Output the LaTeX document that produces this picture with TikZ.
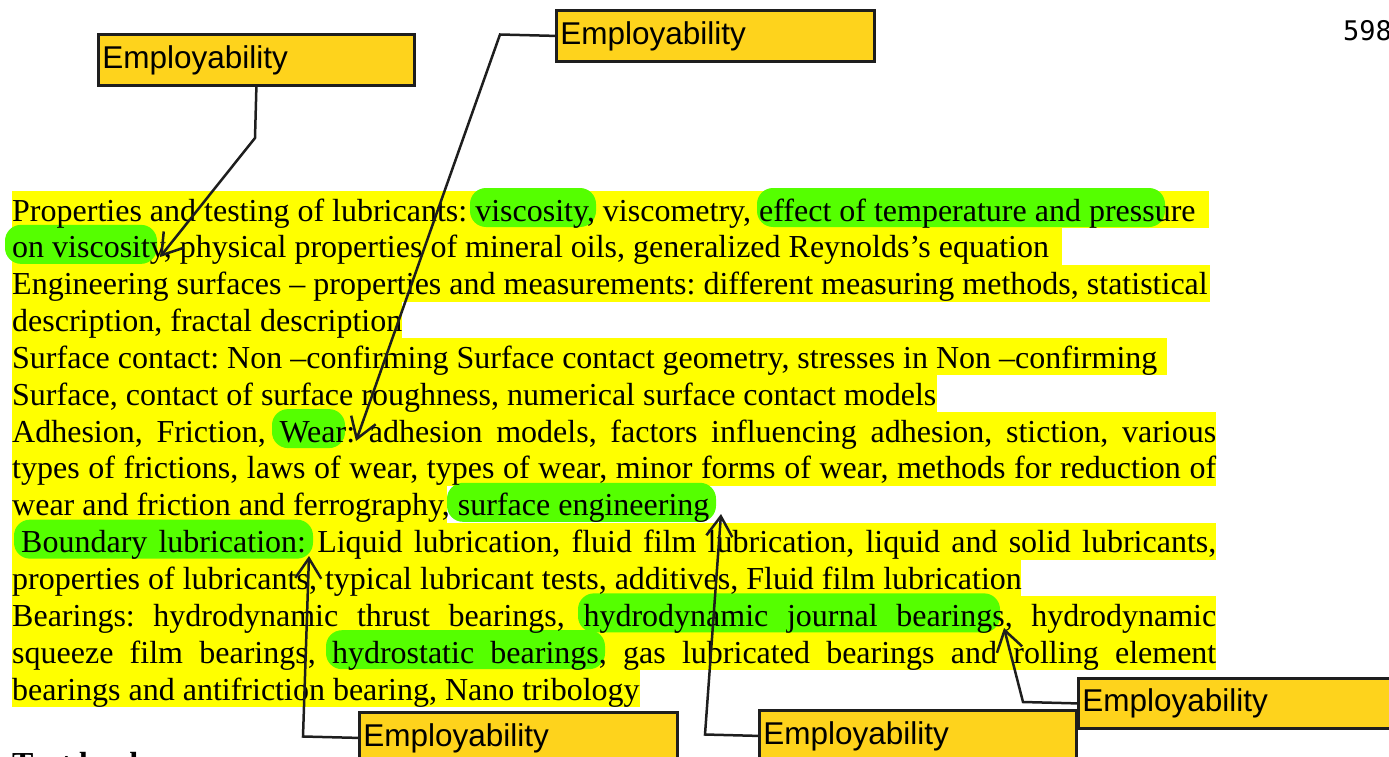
\documentclass[tikz,border=0pt]{standalone}
\usepackage{fontspec}
\setmainfont{Liberation Serif}
\newfontfamily\arialf{Liberation Sans}
\newfontfamily\monof{DejaVu Sans Mono}
\usetikzlibrary{arrows.meta}
\definecolor{hlyellow}{RGB}{255,255,0}
\definecolor{hlgreen}{RGB}{85,255,0}
\definecolor{boxfill}{RGB}{254,211,28}
\definecolor{inkline}{RGB}{30,30,30}
\tikzset{
  bodytext/.style={font=\fontsize{32}{37}\selectfont\frenchspacing, anchor=base west, inner sep=0pt},
  embox/.style={draw=inkline, line width=2.8pt, fill=boxfill, anchor=north west, inner xsep=4pt, inner ysep=0pt,
    minimum height=51pt, align=left, font=\arialf\fontsize{31.5}{34}\selectfont},
  conn/.style={draw=inkline, line width=2.5pt, line join=miter, -{Straight Barb[length=20pt,width=26pt,line width=2.5pt]}},
  ybar/.style={fill=hlyellow},
  gbar/.style={fill=hlgreen, rounded corners=16pt}
}
\begin{document}
\begin{tikzpicture}[x=1pt,y=-1pt]
\useasboundingbox (0,0) rectangle (1389,757);
\clip (0,0) rectangle (1389,757);
% yellow bands
\foreach \b/\r in {221/1209, 257.85/1062, 294.7/1210, 331.55/402, 368.4/1167, 405.25/937, 442.1/1216,
  478.95/1216, 515.8/447, 552.65/1216, 589.5/1021, 626.35/1216, 663.2/1216, 700.05/640}
  \fill[ybar] (12,\b-30) rectangle (\r,\b+7);
% green highlights
\foreach \b/\x/\r in {221/470/596, 221/757/1165, 257.85/5/157, 442.1/272/345, 515.8/447/716,
  552.65/14/313, 626.35/578/1000, 663.2/326/605}
  \fill[gbar] (\x,\b-33) rectangle (\r,\b+6);
% text lines
\node[bodytext] (l1) at (12,221) {Properties and testing of lubricants: viscosity, viscometry, effect of temperature and pressure};
\node[bodytext] (l2) at (12,257.85) {on viscosity, physical properties of mineral oils, generalized Reynolds’s equation};
\node[bodytext] (l3) at (12,294.7) {Engineering surfaces – properties and measurements: different measuring methods, statistical};
\node[bodytext] (l4) at (12,331.55) {description, fractal description};
\node[bodytext] (l5) at (12,368.4) {Surface contact: Non –confirming Surface contact geometry, stresses in Non –confirming};
\node[bodytext] (l6) at (12,405.25) {Surface, contact of surface roughness, numerical surface contact models};
\node[bodytext] (l7) at (12,442.1) {\makebox[1204pt][s]{Adhesion, Friction, Wear: adhesion models, factors influencing adhesion, stiction, various}};
\node[bodytext] (l8) at (12,478.95) {\makebox[1204pt][s]{types of frictions, laws of wear, types of wear, minor forms of wear, methods for reduction of}};
\node[bodytext] (l9) at (12,515.8) {wear and friction and ferrography, surface engineering};
\node[bodytext] (l10) at (21,552.65) {\makebox[1195pt][s]{Boundary lubrication: Liquid lubrication, fluid film lubrication, liquid and solid lubricants,}};
\node[bodytext] (l11) at (12,589.5) {properties of lubricants, typical lubricant tests, additives, Fluid film lubrication};
\node[bodytext] (l12) at (12,626.35) {\makebox[1204pt][s]{Bearings: hydrodynamic thrust bearings, hydrodynamic journal bearings, hydrodynamic}};
\node[bodytext] (l13) at (12,663.2) {\makebox[1204pt][s]{squeeze film bearings, hydrostatic bearings, gas lubricated bearings and rolling element}};
\node[bodytext] (l14) at (12,700.05) {bearings and antifriction bearing, Nano tribology};
\node[bodytext, font=\fontsize{32}{37}\selectfont\bfseries] (tb) at (12,774) {Text book};
% page number
\node[anchor=base west, inner sep=0pt, font=\monof\fontsize{27}{30}\selectfont] (pg) at (1343,41) {598};
% boxes
\node[embox, minimum width=316pt, text width=308pt] (b1) at (97,33) {Employability};
\node[embox, minimum width=318pt, text width=310pt] (b2) at (555,9) {Employability};
\node[embox, minimum width=318pt, text width=310pt] (b3) at (358,711) {Employability};
\node[embox, minimum width=317pt, text width=309pt] (b4) at (758,709) {Employability};
\node[embox, minimum width=318pt, text width=310pt, minimum height=50pt] (b5) at (1077,677) {Employability};
% bends and tips
\coordinate (k1) at (255,138);  \coordinate (t1) at (160,257);
\coordinate (k2) at (500,34.5); \coordinate (t2) at (356,441);
\coordinate (k3) at (303,736.5); \coordinate (t3) at (309,556);
\coordinate (k4) at (705,734.5); \coordinate (t4) at (721,514);
\coordinate (k5) at (1023,702); \coordinate (t5) at (1004,628);
\draw[conn] (b1.south) -- (k1) -- (t1);
\draw[conn] (b2.west) -- (k2) -- (t2);
\draw[conn] (b3.west) -- (k3) -- (t3);
\draw[conn] (b4.west) -- (k4) -- (t4);
\draw[conn] (b5.west) -- (k5) -- (t5);
\end{tikzpicture}
\end{document}
